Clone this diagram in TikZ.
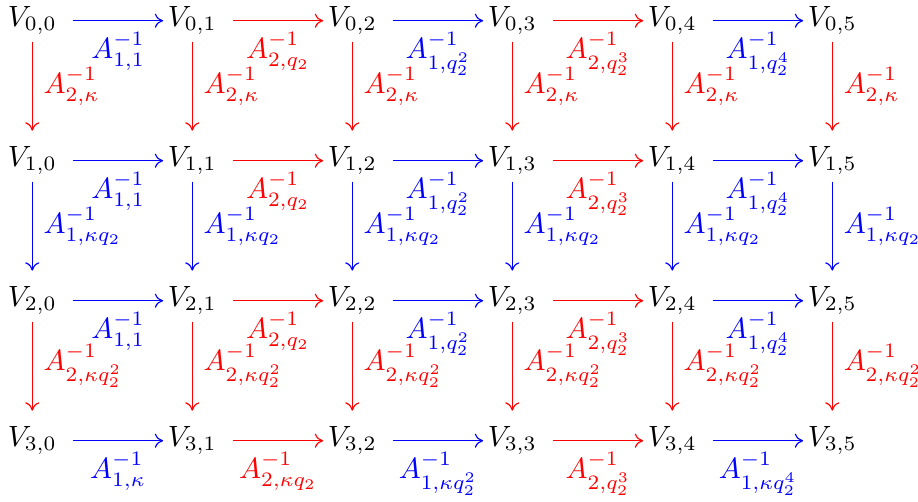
\documentclass[tikz,border=0pt]{standalone}
\usepackage{amsmath,amssymb}
\usepackage{tikz}
\usetikzlibrary{arrows.meta}
\definecolor{mapone}{RGB}{0,0,255}
\definecolor{maptwo}{RGB}{255,0,0}
\tikzset{
  vnode/.style={inner sep=0pt},
  maparrow/.style={-{To[length=1mm,width=1.7mm]}, line width=0.4pt},
  harr/.style={maparrow, shorten <=5.5pt, shorten >=1.4pt},
  varr/.style={maparrow, shorten <=2.1pt, shorten >=5.2pt},
  hlab/.style={midway, below=3.9pt, xshift=2pt, inner sep=0pt},
  vlab/.style={midway, right=3.7pt, yshift=1.5pt, inner sep=0pt},
}

\begin{document}
\begin{tikzpicture}[x=0.341pt,y=-0.341pt]
    \useasboundingbox (0,0) rectangle (918,502);
    % grid of spaces
    \foreach \i in {0,...,3}
      \foreach \j in {0,...,5}
        \node[vnode] (v\i\j) at ({32.3+160*\j},{20.7+140*\i}) {$V_{\i,\j}$};
    % horizontal maps, rows 0--2
    \foreach \i in {0,1,2} {
      \draw[harr, mapone] (v\i0) -- (v\i1) node[hlab] {$A^{-1}_{1,1}$};
      \draw[harr, maptwo] (v\i1) -- (v\i2) node[hlab] {$A^{-1}_{2,q_2}$};
      \draw[harr, mapone] (v\i2) -- (v\i3) node[hlab] {$A^{-1}_{1,q_2^2}$};
      \draw[harr, maptwo] (v\i3) -- (v\i4) node[hlab] {$A^{-1}_{2,q_2^3}$};
      \draw[harr, mapone] (v\i4) -- (v\i5) node[hlab] {$A^{-1}_{1,q_2^4}$};
    }
    % horizontal maps, last row
    \draw[harr, mapone] (v30) -- (v31) node[hlab] {$A^{-1}_{1,\kappa}$};
    \draw[harr, maptwo] (v31) -- (v32) node[hlab] {$A^{-1}_{2,\kappa q_2}$};
    \draw[harr, mapone] (v32) -- (v33) node[hlab] {$A^{-1}_{1,\kappa q_2^2}$};
    \draw[harr, maptwo] (v33) -- (v34) node[hlab] {$A^{-1}_{2,q_2^3}$};
    \draw[harr, mapone] (v34) -- (v35) node[hlab] {$A^{-1}_{1,\kappa q_2^4}$};
    % vertical maps
    \foreach \j in {0,...,5} {
      \draw[varr, maptwo] (v0\j) -- (v1\j) node[vlab] {$A^{-1}_{2,\kappa}$};
      \draw[varr, mapone] (v1\j) -- (v2\j) node[vlab] {$A^{-1}_{1,\kappa q_2}$};
      \draw[varr, maptwo] (v2\j) -- (v3\j) node[vlab] {$A^{-1}_{2,\kappa q_2^2}$};
    }
\end{tikzpicture}
\end{document}
